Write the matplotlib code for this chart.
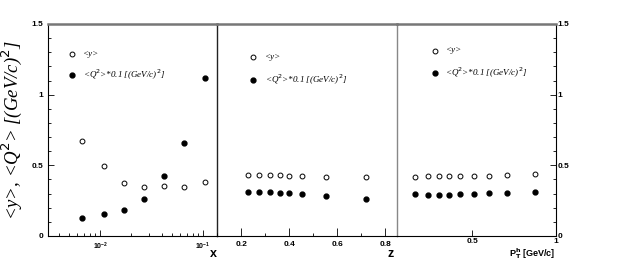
import matplotlib
matplotlib.use("Agg")
import matplotlib.pyplot as plt
from matplotlib.ticker import LogLocator, MultipleLocator, NullFormatter
import numpy as np

# data
x_bins = [0.0066, 0.0109, 0.0170, 0.0266, 0.0417, 0.066, 0.1047]
x_y = [0.674, 0.495, 0.377, 0.349, 0.356, 0.349, 0.38]
x_q2 = [0.125, 0.156, 0.184, 0.262, 0.425, 0.656, 1.12]

z_bins = [0.228, 0.276, 0.32, 0.363, 0.40, 0.452, 0.551, 0.72]
z_y = [0.43, 0.43, 0.43, 0.43, 0.425, 0.425, 0.42, 0.415]
z_q2 = [0.31, 0.31, 0.31, 0.305, 0.305, 0.30, 0.285, 0.265]

pt_bins = [0.156, 0.238, 0.302, 0.362, 0.426, 0.508, 0.60, 0.706, 0.874]
pt_y = [0.42, 0.425, 0.425, 0.425, 0.425, 0.427, 0.427, 0.43, 0.44]
pt_q2 = [0.297, 0.29, 0.29, 0.29, 0.297, 0.297, 0.303, 0.307, 0.313]

fig = plt.figure(figsize=(6.21, 2.62), dpi=100)
W, H = 621.0, 262.0
bot = 1 - 236 / H
hgt = (236 - 24) / H
edges = [48, 217, 397, 556]
axes = [fig.add_axes([edges[i] / W, bot, (edges[i + 1] - edges[i]) / W, hgt]) for i in range(3)]

sans = "Liberation Sans"
serif = "Liberation Serif"
ms = 3.5
data = [(x_bins, x_y, x_q2), (z_bins, z_y, z_q2), (pt_bins, pt_y, pt_q2)]
leg_pos = [(0.14, 0.86, 0.76), (0.2, 0.845, 0.735), (0.24, 0.875, 0.77)]

for i, ax in enumerate(axes):
    ax.set_facecolor("none")
    xb, yy, qq = data[i]
    ax.plot(xb, yy, "o", mfc="white", mec="black", mew=0.7, ms=ms)
    ax.plot(xb, qq, "o", mfc="black", mec="black", ms=ms)
    ax.set_ylim(0, 1.5)
    for s in ["top", "bottom", "left", "right"]:
        ax.spines[s].set_linewidth(0.8)
    ax.spines["top"].set_color("#777777")
    ax.spines["top"].set_linewidth(1.8)
    ax.tick_params(which="both", direction="in", labelsize=6, width=0.6, color="black")
    ax.tick_params(which="major", length=4)
    ax.tick_params(which="minor", length=2.5)
    lx, ly1, ly2 = leg_pos[i]
    ax.plot([lx], [ly1], "o", mfc="white", mec="black", mew=0.7, ms=ms, transform=ax.transAxes, clip_on=False)
    ax.plot([lx], [ly2], "o", mfc="black", mec="black", ms=ms, transform=ax.transAxes, clip_on=False)
    ax.text(lx + 0.065, ly1, "<y>", transform=ax.transAxes, family=serif, style="italic", fontsize=6.5, va="center")
    ax.text(lx + 0.065, ly2, r"<Q$^{2}$>*0.1 [(GeV/c)$^{2}$]", transform=ax.transAxes,
            family=serif, style="italic", fontsize=6.5, va="center")

# x panel
ax = axes[0]
ax.set_xscale("log")
ax.set_xlim(0.0031, 0.138)
ax.xaxis.set_major_locator(LogLocator(base=10))
ax.xaxis.set_minor_locator(LogLocator(base=10, subs=np.arange(2, 10)))
ax.xaxis.set_minor_formatter(NullFormatter())
ax.set_yticks([0, 0.5, 1, 1.5])
ax.set_yticklabels(["0", "0.5", "1", "1.5"])
ax.yaxis.set_minor_locator(MultipleLocator(0.1))
ax.tick_params(axis="y", which="both", left=True, right=False)
ax.tick_params(axis="x", labelsize=5)
ax.spines["right"].set_color("#222222")
ax.spines["right"].set_linewidth(1.0)
ax.set_ylabel(r"<y>, <Q$^{2}$> [(GeV/c)$^{2}$]", family=serif, style="italic", fontsize=13.5, labelpad=5)
ax.text(1.0, -0.085, "x", transform=ax.transAxes, ha="right", va="center",
        family=sans, fontweight="bold", fontsize=9)

# z panel
ax = axes[1]
ax.set_xlim(0.1, 0.848)
ax.set_xticks([0.2, 0.4, 0.6, 0.8])
ax.xaxis.set_minor_locator(MultipleLocator(0.1))
ax.tick_params(axis="x", which="major", length=6)
ax.tick_params(axis="y", which="both", left=False, labelleft=False)
ax.spines["left"].set_visible(False)
ax.spines["right"].set_color("#888888")
ax.spines["right"].set_linewidth(1.0)
ax.text(0.98, -0.085, "z", transform=ax.transAxes, ha="right", va="center",
        family=sans, fontweight="bold", fontsize=9)

# pT panel
ax = axes[2]
ax.set_xlim(0.05, 1.0)
ax.set_xticks([0.5, 1.0])
ax.set_xticklabels(["0.5", "1"])
ax.xaxis.set_minor_locator(MultipleLocator(0.1))
ax.tick_params(axis="x", which="minor", length=0)
ax.tick_params(axis="x", which="major", pad=1.5)
ax.spines["left"].set_visible(False)
ax.yaxis.tick_right()
ax.set_yticks([0, 0.5, 1, 1.5])
ax.set_yticklabels(["0", "0.5", "1", "1.5"])
ax.yaxis.set_minor_locator(MultipleLocator(0.1))
ax.tick_params(axis="y", which="both", direction="in", left=False, right=True, pad=1)
ax.text(0.995, -0.116, r"P$_{\mathbf{T}}^{\mathbf{h}}$ [GeV/c]", transform=ax.transAxes, ha="right", va="bottom",
        family=sans, fontweight="bold", fontsize=6.5)

for ax in axes:
    for lab in ax.get_xticklabels() + ax.get_yticklabels():
        lab.set_fontfamily(sans)
        lab.set_fontweight("bold")

fig.savefig("out.png", dpi=100)
